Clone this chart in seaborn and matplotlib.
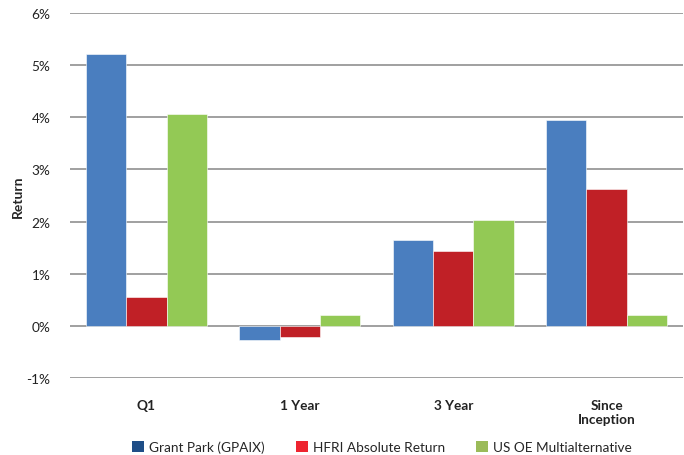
import pandas as pd
import matplotlib.pyplot as plt
import seaborn as sns
from matplotlib.patches import Patch
from matplotlib.ticker import FuncFormatter

# Data (returns in %)
categories = ['Q1', '1 Year', '3 Year', 'Since\nInception']
series = ['Grant Park (GPAIX)', 'HFRI Absolute Return', 'US OE Multialternative']
grant_park = [5.21, -0.28, 1.65, 3.94]
hfri = [0.55, -0.22, 1.44, 2.62]
us_oe = [4.06, 0.20, 2.03, 0.20]

bar_colors = ['#4A7EBF', '#C02026', '#93C955']
legend_colors = ['#1F4E87', '#EE2530', '#9BBB59']

df = pd.DataFrame({
    'period': categories * 3,
    'series': [series[0]] * 4 + [series[1]] * 4 + [series[2]] * 4,
    'ret': grant_park + hfri + us_oe,
})

sns.set_style('white')
plt.rcParams['font.family'] = ['Lato', 'DejaVu Sans']

fig = plt.figure(figsize=(6.84, 4.56), dpi=100)
ax = fig.add_axes([0.102, 0.169, 0.897, 0.80])

sns.barplot(data=df, x='period', y='ret', hue='series', order=categories,
            hue_order=series, palette=bar_colors, width=0.79, saturation=1,
            edgecolor='white', linewidth=0.4, ax=ax, legend=False, zorder=3)

ax.set_ylim(-1, 6)
ax.set_yticks(range(-1, 7))
ax.yaxis.set_major_formatter(FuncFormatter(lambda v, p: f'{v:.0f}%'))
ax.grid(axis='y', color='#A0A0A0', linewidth=1.4, zorder=0)
ax.set_axisbelow(True)
for s in ax.spines.values():
    s.set_visible(False)

ax.tick_params(axis='y', length=0, pad=14, labelsize=9.8, labelcolor='#222222')
ax.tick_params(axis='x', length=0, pad=15, labelsize=9.8, labelcolor='#222222')
for lbl in ax.get_xticklabels():
    lbl.set_fontweight('bold')
    lbl.set_verticalalignment('top')
    lbl.set_linespacing(1.25)

ax.set_xlabel('')
ax.set_ylabel('Return', fontsize=10, fontweight='bold')
ax.yaxis.set_label_coords(-0.075, 0.5)

handles = [Patch(facecolor=c, edgecolor='none') for c in legend_colors]
fig.legend(handles, series, loc='center left', bbox_to_anchor=(0.193, 0.0175),
           ncol=3, frameon=False, fontsize=9.8, handlelength=0.88,
           handleheight=0.88, handletextpad=0.37, columnspacing=2.3,
           borderpad=0, borderaxespad=0)

fig.savefig('out.png', dpi=100)
